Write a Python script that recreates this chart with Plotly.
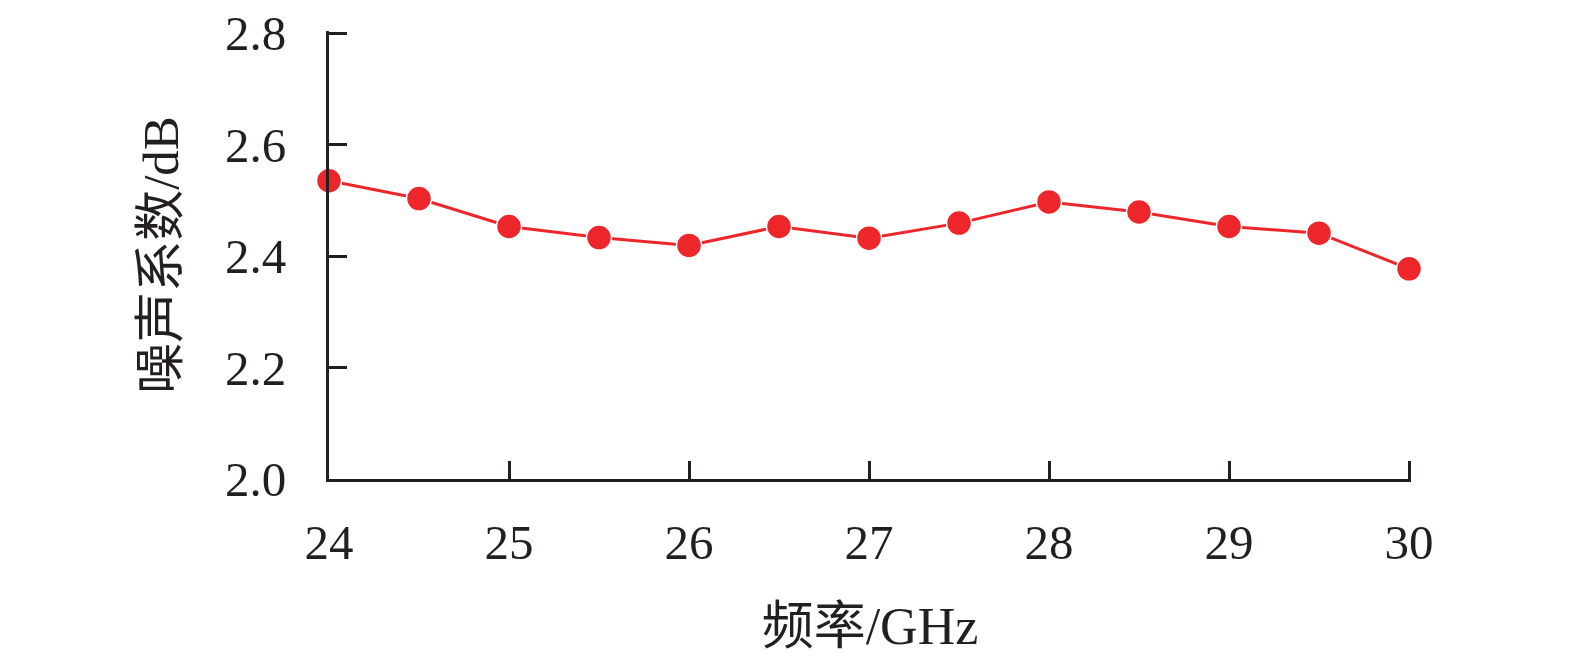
import plotly.graph_objects as go

# Noise figure vs frequency
freq_ghz = [24, 24.5, 25, 25.5, 26, 26.5, 27, 27.5, 28, 28.5, 29, 29.5, 30]
noise_db = [2.535, 2.503, 2.453, 2.433, 2.419, 2.453, 2.432, 2.459, 2.497, 2.479, 2.453, 2.441, 2.377]

x_ticks = [24, 25, 26, 27, 28, 29, 30]
y_ticks = [2.0, 2.2, 2.4, 2.6, 2.8]

FONT = "Liberation Serif, Times New Roman, Noto Sans CJK SC, serif"
INK = "#231F20"
RED = "#ED262B"

fig = go.Figure()
fig.add_trace(go.Scatter(
    x=freq_ghz, y=noise_db,
    mode="lines+markers",
    line=dict(color=RED, width=3),
    marker=dict(color=RED, size=25, line=dict(color="white", width=1.5)),
    cliponaxis=False,
    showlegend=False,
))

axis_common = dict(
    showgrid=False, zeroline=False, automargin=False,
    showline=True, linecolor=INK, linewidth=3,
    ticks="inside", ticklen=18, tickwidth=3, tickcolor=INK,
    tickfont=dict(family=FONT, size=49, color=INK),
    ticklabeloverflow="allow",
)

# ranges run ~2px past the last tick: plotly drops inside ticks sitting on the ends
fig.update_xaxes(
    range=[24, 30.011], tickvals=x_ticks, ticktext=[str(v) for v in x_ticks],
    title=dict(text="频率/GHz", font=dict(family=FONT, size=52, color=INK), standoff=39),
    ticklabelstandoff=18,
    **axis_common,
)
fig.update_yaxes(
    range=[2.0, 2.8036], tickvals=y_ticks, ticktext=[f"{v:.1f}" for v in y_ticks],
    title=dict(text="噪声系数/dB", font=dict(family=FONT, size=51, color=INK), standoff=31),
    ticklabelstandoff=30,
    **axis_common,
)

fig.update_layout(
    width=1575, height=656,
    margin=dict(l=329, r=164, t=31, b=177),
    plot_bgcolor="white", paper_bgcolor="white",
)

# drop the default 8px body margin so the figure sits at the page corner
fig.write_html(
    "out.html",
    config={"displayModeBar": False},
    post_script="document.body.style.margin='0';",
)
